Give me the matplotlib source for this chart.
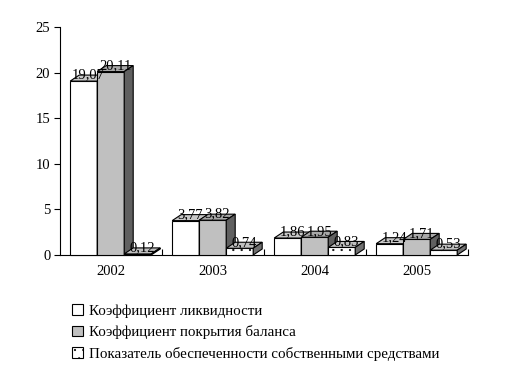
import matplotlib.pyplot as plt
from matplotlib.patches import Polygon, Patch

plt.rcParams['font.family'] = ['Liberation Serif', 'DejaVu Serif']
plt.rcParams['hatch.linewidth'] = 0.35

years = ['2002', '2003', '2004', '2005']
liquidity = [19.07, 3.77, 1.86, 1.24]
coverage = [20.11, 3.82, 1.95, 1.71]
own_funds = [0.12, 0.74, 0.83, 0.53]
series_names = ['Коэффициент ликвидности',
                'Коэффициент покрытия баланса',
                'Показатель обеспеченности собственными средствами']

W, H = 517, 371
fig = plt.figure(figsize=(W / 100, H / 100), dpi=100)
ax_l, ax_r, ax_t, ax_b = 60, 468, 27, 255
ax = fig.add_axes([ax_l / W, 1 - ax_b / H, (ax_r - ax_l) / W, (ax_b - ax_t) / H])
ax.set_xlim(-0.5, 3.5)
ax.set_ylim(0, 25)

# depth of the pseudo-3d bars, in pixels -> data units
px_x = (ax_r - ax_l) / 4.0
px_y = (ax_b - ax_t) / 25.0
dx = 9 / px_x
dy = 6 / px_y
bw = 27 / px_x
offsets = [-0.4 + bw * k for k in range(3)]

styles = [
    dict(front='white', top='#c8c8c8', side='#808080', hatch=None),
    dict(front='#c0c0c0', top='#a8a8a8', side='#606060', hatch=None),
    dict(front='white', top='#c0c0c0', side='#707070', hatch='..'),
]

for i in range(len(years)):
    for k, vals in enumerate([liquidity, coverage, own_funds]):
        h = vals[i]
        st = styles[k]
        x0 = i + offsets[k]
        x1 = x0 + bw
        ax.bar(x0, h, width=bw, align='edge', color=st['front'], edgecolor='black',
               linewidth=0.8, hatch=st['hatch'], zorder=3, clip_on=False)
        top = Polygon([(x0, h), (x1, h), (x1 + dx, h + dy), (x0 + dx, h + dy)],
                      closed=True, facecolor=st['top'], edgecolor='black',
                      linewidth=0.8, zorder=3, clip_on=False)
        side = Polygon([(x1, 0), (x1 + dx, dy), (x1 + dx, h + dy), (x1, h)],
                       closed=True, facecolor=st['side'], edgecolor='black',
                       linewidth=0.8, zorder=3, clip_on=False)
        ax.add_patch(top)
        ax.add_patch(side)
        ax.text((x0 + x1) / 2 + dx / 2, h + dy, ('%.2f' % h).replace('.', ','),
                ha='center', va='center', fontsize=10.5, zorder=5)

for s in ['top', 'right']:
    ax.spines[s].set_visible(False)
ax.spines['left'].set_linewidth(0.8)
ax.spines['bottom'].set_linewidth(0.8)

ax.set_yticks([0, 5, 10, 15, 20, 25])
ax.tick_params(axis='y', direction='out', length=4, width=0.8, labelsize=10.5, pad=3)
ax.set_xticks([0, 1, 2, 3])
ax.set_xticklabels(years)
ax.set_xticks([0.5, 1.5, 2.5, 3.5], minor=True)
ax.tick_params(axis='x', which='major', length=0, labelsize=10.5, pad=7)
ax.tick_params(axis='x', which='minor', direction='in', length=4, width=0.8)

handles = [Patch(facecolor=st['front'], edgecolor='black', linewidth=0.8, hatch=st['hatch'])
           for st in styles]
fig.legend(handles, series_names, loc='upper left', bbox_to_anchor=(66 / W, 1 - 298 / H),
           frameon=False, fontsize=10.8, handlelength=0.75, handleheight=0.75,
           handletextpad=0.4, labelspacing=0.5, borderaxespad=0)

fig.savefig('out.png', dpi=100)
